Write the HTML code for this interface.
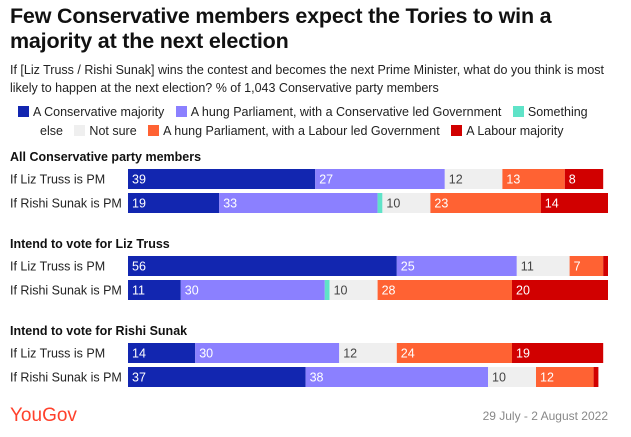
<!DOCTYPE html>
<html><head><meta charset="utf-8"><style>
body{margin:0;width:631px;height:437px;background:#fff;font-family:"Liberation Sans",sans-serif;overflow:hidden;position:relative}
.t{position:absolute;left:10px;top:4px;font-size:21.5px;font-weight:bold;line-height:25px;color:#111;letter-spacing:-0.2px}
.s{position:absolute;left:10px;top:61px;width:610px;font-size:12.5px;line-height:18px;color:#222}
.lg{position:absolute;left:18px;top:103px;width:568px;padding-left:22px;text-indent:-22px;font-size:12.5px;line-height:19px;color:#222}
.sw{display:inline-block;width:11px;height:11px;vertical-align:-1px;margin-right:4px;text-indent:0}
.li{margin-right:8px}
</style></head><body>
<div class="t">Few Conservative members expect the Tories to win a<br>majority at the next election</div>
<div class="s">If [Liz Truss / Rishi Sunak] wins the contest and becomes the next Prime Minister, what do you think is most likely to happen at the next election? % of 1,043 Conservative party members</div>
<div class="lg" id="lg"></div>
<svg id="c" width="631" height="437" style="position:absolute;left:0;top:0"></svg>
<script>
const seriesNames=["A Conservative majority","A hung Parliament, with a Conservative led Government","Something else","Not sure","A hung Parliament, with a Labour led Government","A Labour majority"];
const colors=["#1226b0","#8b80ff","#5fe3c8","#efefef","#ff6233","#d10000"];
const groups=["All Conservative party members","Intend to vote for Liz Truss","Intend to vote for Rishi Sunak"];
const rowLabels=["If Liz Truss is PM","If Rishi Sunak is PM"];
const g1Liz=[39,27,0,12,13,8];
const g1Rishi=[19,33,1,10,23,14];
const g2Liz=[56,25,0,11,7,1];
const g2Rishi=[11,30,1,10,28,20];
const g3Liz=[14,30,0,12,24,19];
const g3Rishi=[37,38,0,10,12,1];
const data=[[g1Liz,g1Rishi],[g2Liz,g2Rishi],[g3Liz,g3Rishi]];
const NS="http://www.w3.org/2000/svg";
const svg=document.getElementById('c');
const x0=128,scale=4.8;
function xs(v){return x0+v*scale;}
const lg=document.getElementById('lg');
seriesNames.forEach((n,i)=>{
  const s=document.createElement('span');s.className='li';
  
  
  s.innerHTML='<span class="sw" style="background:'+colors[i]+'"></span>'+n;
  lg.appendChild(s);
  lg.appendChild(document.createTextNode(' '));
});
function txt(x,y,t,opt){
  const e=document.createElementNS(NS,'text');
  e.setAttribute('x',x);e.setAttribute('y',y);
  e.setAttribute('font-family','Liberation Sans, sans-serif');
  e.setAttribute('font-size',opt.size||12.5);
  e.setAttribute('fill',opt.fill||'#222');
  if(opt.bold)e.setAttribute('font-weight','bold');
  if(opt.anchor)e.setAttribute('text-anchor',opt.anchor);
  e.textContent=t;svg.appendChild(e);return e;
}
const groupTop=[150,237,324];
data.forEach((g,gi)=>{
  const gt=txt(10,groupTop[gi]+11,groups[gi],{bold:true,size:12.5,fill:'#111'});
  
  
  g.forEach((row,ri)=>{
    const y=groupTop[gi]+19+ri*24;
    const rl=txt(10,y+14.5,rowLabels[ri],{});
    
    
    let cum=0;
    row.forEach((v,si)=>{
      if(v<=0)return;
      const r=document.createElementNS(NS,'rect');
      r.setAttribute('x',xs(cum));r.setAttribute('y',y);
      r.setAttribute('width',v*scale);r.setAttribute('height',20);
      r.setAttribute('fill',colors[si]);
      
      
      svg.appendChild(r);
      if(v>=3){
        const l=txt(xs(cum)+4,y+14.5,String(v),{fill:si==3?'#444':'#fff'});
        
        
      }
      cum+=v;
    });
  });
});
const logo=txt(10,421,'YouGov',{size:19,fill:'#ff412c'});


const dt=txt(608,420,'29 July - 2 August 2022',{size:12,fill:'#888',anchor:'end'});


</script>
</body></html>
